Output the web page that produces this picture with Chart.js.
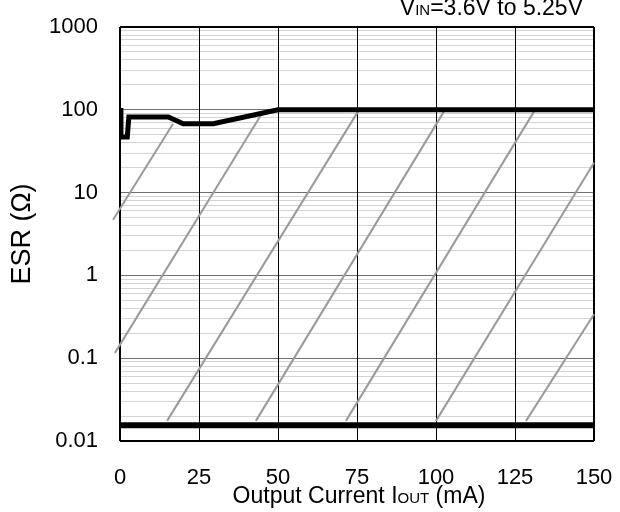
<!DOCTYPE html>
<html>
<head>
<meta charset="utf-8">
<script src="https://cdn.jsdelivr.net/npm/chart.js@4"></script>
<style>
    body { margin: 0; background: #fff; }
    canvas { display: block; }
</style>
</head>
<body>
<canvas id="esrChart" width="620" height="512"></canvas>
<script>
// ESR limit curve (upper boundary of the stable region)
const curveCurrent = [0, 0.3, 2.3, 2.8, 15.3, 20, 29.5, 50, 150];
const curveEsr = [105, 47, 47, 82, 82, 68, 68, 100, 100];

// lower ESR limit
const floorCurrent = [0, 150];
const floorEsr = [0.0155, 0.0155];

// gray hatch lines inside the stable region (start / end of each line)
const hatchStartCurrent = [-2.2, -1.6, 14.9, 43.0, 71.5, 100, 128.5];
const hatchStartEsr = [4.7, 0.116, 0.0175, 0.0175, 0.0175, 0.0175, 0.0175];
const hatchEndCurrent = [16.8, 44.9, 75.3, 102.5, 131.0, 150, 150];
const hatchEndEsr = [68, 90, 95, 95, 95, 23, 0.34];

// axis ticks
const xTickValues = [0, 25, 50, 75, 100, 125, 150];
const yTickValues = [0.01, 0.1, 1, 10, 100, 1000];
const yTickLabels = ['0.01', '0.1', '1', '10', '100', '1000'];

const FONT = "'Liberation Sans', Arial, sans-serif";

document.addEventListener('DOMContentLoaded', function() {
    drawChart();
});

function toPoints(xs, ys) {
    return xs.map((x, i) => ({ x: x, y: ys[i] }));
}

/**
 * gridlines on the log axis: every 1..9 step of each decade
 */
function buildLogTicks() {
    const ticks = [];
    yTickValues.forEach((decade, i) => {
        ticks.push({ value: decade, major: true });
        if (i < yTickValues.length - 1) {
            for (let m = 2; m <= 9; m++) {
                ticks.push({ value: +(decade * m).toPrecision(6), major: false });
            }
        }
    });
    return ticks;
}

/**
 * text with a smaller middle part (subscript style labels)
 */
function drawMixedText(ctx, parts, x, y, align) {
    let total = 0;
    parts.forEach(p => {
        ctx.font = p.size + 'px ' + FONT;
        total += ctx.measureText(p.text).width;
    });
    let cx = align === 'right' ? x - total : (align === 'center' ? x - total / 2 : x);
    ctx.textAlign = 'left';
    ctx.textBaseline = 'alphabetic';
    ctx.fillStyle = '#000';
    parts.forEach(p => {
        ctx.font = p.size + 'px ' + FONT;
        ctx.fillText(p.text, cx, y);
        cx += ctx.measureText(p.text).width;
    });
}

const textPlugin = {
    id: 'extraText',
    afterDraw(chart) {
        const ctx = chart.ctx;
        const area = chart.chartArea;
        ctx.save();
        drawMixedText(ctx, [
            { text: 'Output Current I', size: 23 },
            { text: 'OUT', size: 15 },
            { text: ' (mA)', size: 23 }
        ], (area.left + area.right) / 2 + 2, 503, 'center');
        drawMixedText(ctx, [
            { text: 'V', size: 23 },
            { text: 'IN', size: 15 },
            { text: '=3.6V to 5.25V', size: 23 }
        ], 583, 15, 'right');
        ctx.restore();
    }
};

function noPadding(scale) {
    scale.paddingLeft = 0;
    scale.paddingRight = 0;
    scale.paddingTop = 0;
    scale.paddingBottom = 0;
}

function drawChart() {
    const ctx = document.getElementById('esrChart');

    const hatchSets = hatchStartCurrent.map((x, i) => ({
        data: toPoints([x, hatchEndCurrent[i]], [hatchStartEsr[i], hatchEndEsr[i]]),
        borderColor: '#9a9a9a',
        borderWidth: 2,
        pointRadius: 0,
        clip: false
    }));

    new Chart(ctx, {
        type: 'line',
        data: {
            datasets: [
                {
                    data: toPoints(curveCurrent, curveEsr),
                    borderColor: '#000',
                    borderWidth: 5,
                    pointRadius: 0
                },
                {
                    data: toPoints(floorCurrent, floorEsr),
                    borderColor: '#000',
                    borderWidth: 6,
                    pointRadius: 0
                }
            ].concat(hatchSets)
        },
        options: {
            responsive: false,
            animation: false,
            devicePixelRatio: 1,
            layout: { padding: { top: 27, right: 26, left: 0, bottom: 0 } },
            plugins: {
                legend: { display: false },
                tooltip: { enabled: false }
            },
            scales: {
                x: {
                    type: 'linear',
                    min: 0,
                    max: 150,
                    afterBuildTicks: scale => {
                        scale.ticks = xTickValues.map(v => ({ value: v }));
                    },
                    afterFit: scale => {
                        scale.height = 71;
                        noPadding(scale);
                    },
                    ticks: {
                        color: '#000',
                        font: { family: FONT, size: 22 },
                        padding: 24,
                        maxRotation: 0,
                        autoSkip: false
                    },
                    grid: {
                        drawTicks: false,
                        z: -1,
                        color: '#000',
                        lineWidth: c => (c.index === 0 || c.index === xTickValues.length - 1) ? 2 : 1
                    },
                    border: { display: false }
                },
                y: {
                    type: 'logarithmic',
                    min: 0.01,
                    max: 1000,
                    afterBuildTicks: scale => {
                        scale.ticks = buildLogTicks();
                    },
                    afterFit: scale => {
                        scale.width = 120;
                        noPadding(scale);
                    },
                    ticks: {
                        color: '#000',
                        font: { family: FONT, size: 22 },
                        padding: 22,
                        autoSkip: false,
                        callback: (value, index, ticks) => {
                            const i = yTickValues.indexOf(ticks[index].value);
                            return i >= 0 ? yTickLabels[i] : '';
                        }
                    },
                    grid: {
                        drawTicks: false,
                        z: -2,
                        color: c => {
                            if (c.tick.value === 0.01 || c.tick.value === 1000) return '#000';
                            return c.tick.major ? '#707070' : '#d4d4d4';
                        },
                        lineWidth: c => (c.tick.value === 0.01 || c.tick.value === 1000) ? 2 : 1
                    },
                    border: { display: false },
                    title: {
                        display: true,
                        text: 'ESR (Ω)',
                        color: '#000',
                        font: { family: FONT, size: 27 },
                        padding: { top: 6, bottom: 0 }
                    }
                }
            }
        },
        plugins: [textPlugin]
    });
}
</script>
</body>
</html>
